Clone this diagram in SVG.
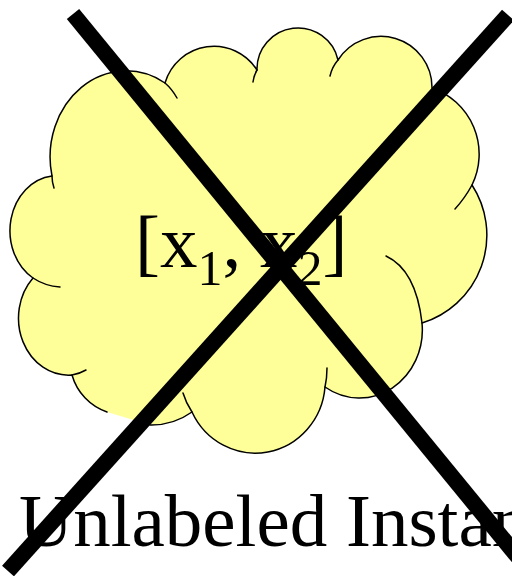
<svg xmlns="http://www.w3.org/2000/svg" width="512" height="576" viewBox="0 0 512 576">
<style>
.serif{font-family:"Liberation Serif","Times New Roman",serif;fill:#000}
.cloudfill{fill:#FFFF99;stroke:none}
.cloudline{fill:none;stroke:#000;stroke-width:1.5;stroke-linejoin:round;stroke-linecap:round}
.cross{stroke:#000;stroke-width:16;stroke-linecap:butt}
</style>
<rect width="512" height="576" fill="#fff"/>
<g id="cloud">
<path class="cloudfill" d="M52,176 A76,86 0 0 1 165,83 A51,51 0 0 1 257,70 A41,41 0 0 1 338,60 A51,51 0 0 1 432,88 A70,70 0 0 1 472,185 A92,92 0 0 1 422,323 A63,68 0 0 1 325,387 A70,72 0 0 1 192,412 A70,70 0 0 1 150,425 L107,412 A55,55 0 0 1 72,375 A50,57 0 0 1 33,278 A47,55 0 0 1 52,176 Z"/>
<path class="cloudline" d="M52,176 A76,86 0 0 1 165,83 A51,51 0 0 1 257,70 A41,41 0 0 1 338,60 A51,51 0 0 1 432,88 A70,70 0 0 1 472,185 A92,92 0 0 1 422,323 A63,68 0 0 1 325,387 A70,72 0 0 1 192,412 A70,70 0 0 1 150,425 M107,412 A55,55 0 0 1 72,375 A50,57 0 0 1 33,278 A47,55 0 0 1 52,176"/>
<path class="cloudline" d="M52,176 Q52,182 54,188 M33,278 Q45,286 60,287 M72,375 Q79,374 86,370 M192,412 Q186,403 183,393 M325,387 Q327,378 327,368 M386,256 Q416,270 422,323 M472,185 Q465,198 455,209 M338,60 Q332,67 330,76 M257,70 Q254,75 253,82 M165,83 Q172,89 177,98"/>
</g>
<g id="cloud-label">
<text class="serif" x="135" y="267" font-size="75">[x<tspan font-size="50" dy="18">1</tspan><tspan dy="-18">, x</tspan><tspan font-size="50" dy="18">2</tspan><tspan dy="-18">]</tspan></text>
</g>
<g id="caption">
<text class="serif" x="19" y="546" font-size="75">Unlabeled Instance</text>
</g>
<g id="cross">
<line class="cross" x1="73" y1="14" x2="545" y2="590"/>
<line class="cross" x1="508" y1="15" x2="8" y2="571"/>
</g>
</svg>
